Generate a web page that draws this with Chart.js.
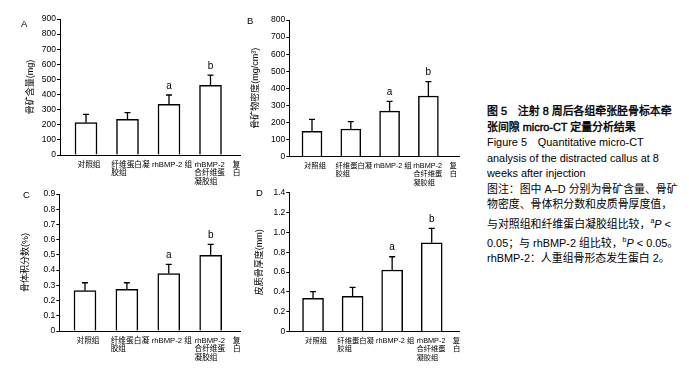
<!DOCTYPE html>
<html>
<head>
<meta charset="utf-8">
<script src="https://cdn.jsdelivr.net/npm/chart.js@4.4.1/dist/chart.umd.min.js"></script>
<style>
  body { margin: 0; background: #fff; width: 689px; height: 374px; position: relative; overflow: hidden;
         font-family: "Liberation Sans", "Noto Sans CJK SC", sans-serif; color: #000; }
  canvas { position: absolute; }
  .tag { position: absolute; font-size: 9.5px; line-height: 11px; }
  #caption { position: absolute; left: 487px; top: 104px; font-size: 10.9px; line-height: 15.5px; white-space: nowrap; }
  #caption .cn-title { font-weight: normal; -webkit-text-stroke: 0.4px #000; }
</style>
</head>
<body>
<canvas id="chartA" width="248" height="190" style="left:0;top:0"></canvas>
<canvas id="chartB" width="235" height="190" style="left:230px;top:0"></canvas>
<canvas id="chartC" width="248" height="194" style="left:0;top:180px"></canvas>
<canvas id="chartD" width="235" height="194" style="left:230px;top:180px"></canvas>

<div class="tag" style="left:21px;top:18px">A</div>
<div class="tag" style="left:247px;top:15px">B</div>
<div class="tag" style="left:23px;top:189px">C</div>
<div class="tag" style="left:256px;top:187px">D</div>

<div id="caption">
  <div class="cn-title">图 5　注射 8 周后各组牵张胫骨标本牵</div>
  <div class="cn-title">张间隙 micro-CT 定量分析结果</div>
  <div>Figure 5　Quantitative micro-CT</div>
  <div>analysis of the distracted callus at 8</div>
  <div>weeks after injection</div>
  <div>图注：图中 A–D 分别为骨矿含量、骨矿</div>
  <div>物密度、骨体积分数和皮质骨厚度值，</div>
  <div>与对照组和纤维蛋白凝胶组比较，<sup style="font-size:7px">a</sup><i>P</i> &lt;</div>
  <div>0.05；与 rhBMP-2 组比较，<sup style="font-size:7px">b</sup><i>P</i> &lt; 0.05。</div>
  <div>rhBMP-2：人重组骨形态发生蛋白 2。</div>
</div>

<script>
// group names, wrapped the way the figure wraps them
const groupLabels = [
    ["对照组"],
    ["纤维蛋白凝", "胶组　　　"],
    ["rhBMP-2 组"],
    ["　rhBMP-2　复", "　合纤维蛋　白", "　凝胶组　　　"]
];
const sigLetters = ["", "", "a", "b"];

// A: bone mineral content (mg)
const mineralContent = [214, 236, 335, 461];
const mineralContentSD = [55, 44, 62, 68];
// B: bone mineral density (mg/cm3)
const mineralDensity = [148, 162, 267, 355];
const mineralDensitySD = [71, 43, 57, 84];
// C: bone volume fraction (%)
const boneVolume = [0.265, 0.274, 0.377, 0.497];
const boneVolumeSD = [0.052, 0.043, 0.061, 0.072];
// D: cortical thickness (mm)
const corticalThickness = [0.336, 0.356, 0.621, 0.896];
const corticalThicknessSD = [0.067, 0.090, 0.134, 0.145];

const fontFamily = "'Liberation Sans', 'Noto Sans CJK SC', sans-serif";

// upper-half error bars with a cap, plus significance letters
const errorBars = {
    id: "errorBars",
    afterDatasetsDraw(chart, args, opts) {
        const ctx = chart.ctx;
        const yScale = chart.scales.y;
        const meta = chart.getDatasetMeta(0);
        const values = chart.data.datasets[0].data;
        ctx.save();
        ctx.strokeStyle = "#000";
        ctx.lineWidth = 1.3;
        ctx.fillStyle = "#000";
        ctx.font = "10px " + fontFamily;
        ctx.textAlign = "center";
        ctx.textBaseline = "middle";
        meta.data.forEach((bar, i) => {
            const top = yScale.getPixelForValue(values[i].y + opts.sd[i]);
            ctx.beginPath();
            ctx.moveTo(bar.x, bar.y);
            ctx.lineTo(bar.x, top);
            ctx.moveTo(bar.x - 3, top);
            ctx.lineTo(bar.x + 3, top);
            ctx.stroke();
            if (opts.marks[i]) {
                ctx.fillText(opts.marks[i], bar.x, top - 9);
            }
        });
        ctx.restore();
    }
};

function makePanel(id, p) {
    const ctx = document.getElementById(id).getContext("2d");
    return new Chart(ctx, {
        type: "bar",
        data: {
            datasets: [{
                data: p.values.map((v, i) => ({ x: i + 1, y: v })),
                backgroundColor: "#fff",
                borderColor: "#000",
                borderWidth: 1.5,
                barThickness: p.barWidth
            }]
        },
        options: {
            responsive: false,
            animation: false,
            layout: { padding: { left: 0, right: p.padRight, top: p.padTop, bottom: 0 } },
            plugins: {
                legend: { display: false },
                tooltip: { enabled: false },
                errorBars: { sd: p.sd, marks: sigLetters }
            },
            scales: {
                x: {
                    type: "linear",
                    min: p.xMin,
                    max: p.xMax,
                    offset: false,
                    grid: { display: false, drawTicks: false },
                    border: { display: true, color: "#000", width: 1 },
                    afterBuildTicks: (axis) => {
                        axis.ticks = groupLabels.map((_, i) => ({ value: i + 1 }));
                    },
                    afterFit: (axis) => { axis.height = p.xHeight; },
                    ticks: {
                        autoSkip: false,
                        maxRotation: 0,
                        minRotation: 0,
                        padding: 5,
                        labelOffset: 3,
                        color: "#000",
                        font: { size: p.labelSize, family: fontFamily, lineHeight: 1.15 },
                        callback: (v) => groupLabels[v - 1]
                    }
                },
                y: {
                    min: 0,
                    max: p.yMax,
                    grid: { drawOnChartArea: false, drawTicks: true, tickLength: 3, color: "#000" },
                    border: { display: true, color: "#000", width: 1 },
                    afterFit: (axis) => { axis.width = p.yWidth; },
                    ticks: {
                        stepSize: p.yStep,
                        padding: 1,
                        color: "#000",
                        font: { size: 8.5, family: fontFamily },
                        callback: (v) => v === 0 ? "0" : v.toFixed(p.decimals)
                    },
                    title: {
                        display: true,
                        text: p.yTitle,
                        color: "#000",
                        font: { size: p.titleSize, family: fontFamily, lineHeight: 1.2 },
                        padding: { top: p.titleX - p.titleSize * 0.6, bottom: 0 }
                    }
                }
            }
        },
        plugins: [errorBars]
    });
}

makePanel("chartA", {
    values: mineralContent, sd: mineralContentSD, yMax: 900, yStep: 100, decimals: 0,
    yTitle: "骨矿含量(mg)", titleSize: 9, titleX: 31, labelSize: 7.7,
    yWidth: 60, padTop: 19, padRight: 8, xHeight: 35,
    xMin: 0.3735, xMax: 4.711, barWidth: 22
});
makePanel("chartB", {
    values: mineralDensity, sd: mineralDensitySD, yMax: 800, yStep: 100, decimals: 0,
    yTitle: "骨矿物密度(mg/cm³)", titleSize: 9, titleX: 25.7, labelSize: 7.3,
    yWidth: 59.3, padTop: 20, padRight: 6, xHeight: 33.3,
    xMin: 0.415, xMax: 4.789, barWidth: 20
});
makePanel("chartC", {
    values: boneVolume, sd: boneVolumeSD, yMax: 0.9, yStep: 0.1, decimals: 1,
    yTitle: "骨体积分数(%)", titleSize: 9, titleX: 25.7, labelSize: 7.7,
    yWidth: 59.3, padTop: 14, padRight: 8, xHeight: 43,
    xMin: 0.387, xMax: 4.70, barWidth: 22
});
makePanel("chartD", {
    values: corticalThickness, sd: corticalThicknessSD, yMax: 1.4, yStep: 0.2, decimals: 1,
    yTitle: "皮质骨厚度(mm)", titleSize: 9, titleX: 30, labelSize: 7.3,
    yWidth: 59.3, padTop: 12.7, padRight: 6, xHeight: 42.3,
    xMin: 0.40, xMax: 4.69, barWidth: 21
});
</script>
</body>
</html>
